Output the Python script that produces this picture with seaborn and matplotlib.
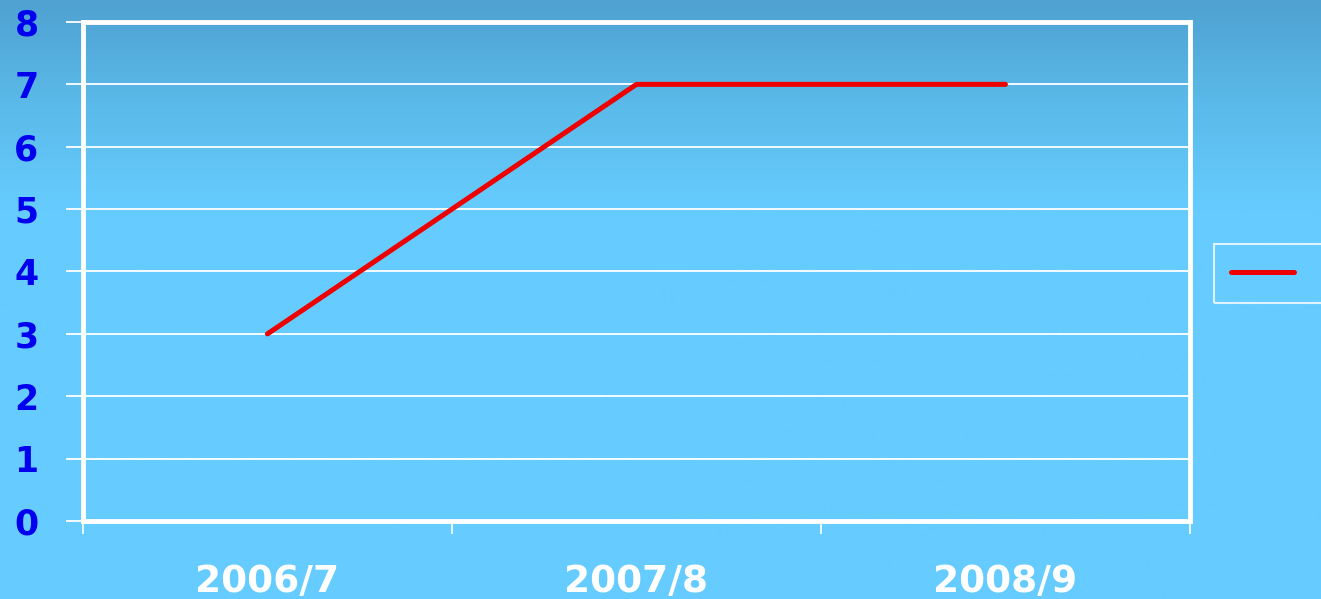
import numpy as np
import pandas as pd
import matplotlib
matplotlib.use("Agg")
import matplotlib.pyplot as plt
from matplotlib.colors import LinearSegmentedColormap
import seaborn as sns

# datos
periodos = ["2006/7", "2007/8", "2008/9"]
valores = [3, 7, 7]
y_ticks = [0, 1, 2, 3, 4, 5, 6, 7, 8]

sns.set_theme(style="white")
plt.rcParams["font.family"] = ["DejaVu Sans"]

df = pd.DataFrame({"Periodo": periodos, "Valor": valores})

fig = plt.figure(figsize=(13.21, 5.99), dpi=100)

# fondo degradado
bg = fig.add_axes([0, 0, 1, 1], zorder=-10)
cmap = LinearSegmentedColormap.from_list(
    "fondo", [(0.0, "#4fa2d2"), (0.18, "#5bbbea"), (0.35, "#66ccff"), (1.0, "#66ccff")]
)
grad = np.linspace(0, 1, 300).reshape(-1, 1)
bg.imshow(grad, aspect="auto", cmap=cmap, extent=[0, 1, 0, 1], origin="upper")
bg.axis("off")

ax = fig.add_axes([0.0628, 0.1302, 0.838, 0.8331])
ax.set_facecolor("none")

sns.lineplot(data=df, x="Periodo", y="Valor", color="#ee0000", linewidth=3.6,
             ax=ax, label=" " * 5, zorder=5)

ax.set_xlim(-0.5, 2.5)
ax.set_ylim(0, 8)
ax.set_yticks(y_ticks)
ax.yaxis.grid(True, color="white", linewidth=1.3)
ax.set_axisbelow(True)

for s in ax.spines.values():
    s.set_color("white")
    s.set_linewidth(3.5)

ax.set_xticks([0, 1, 2])
ax.set_xticklabels(periodos)
ax.set_xticks([-0.5, 0.5, 1.5, 2.5], minor=True)
ax.tick_params(axis="x", which="major", length=0, pad=31, labelsize=27,
               labelcolor="white")
ax.tick_params(axis="x", which="minor", length=9, width=1.2, color="white",
               direction="out", bottom=True)
ax.tick_params(axis="y", length=12, width=1.3, color="white", direction="out",
               left=True, pad=20, labelsize=25, labelcolor="#0000ee")
for t in ax.get_xticklabels() + ax.get_yticklabels():
    t.set_fontweight("bold")

ax.set_xlabel("")
ax.set_ylabel("")

leg = ax.legend(loc="upper left", bbox_to_anchor=(0.919, 0.593),
                bbox_transform=fig.transFigure, frameon=True, fancybox=False,
                fontsize=18, handlelength=2.5, borderpad=0.7, borderaxespad=0)
leg.get_frame().set_facecolor("none")
leg.get_frame().set_edgecolor("white")
leg.get_frame().set_linewidth(1.5)
for h in leg.get_lines():
    h.set_linewidth(3.6)

fig.savefig("out.png", dpi=100)
